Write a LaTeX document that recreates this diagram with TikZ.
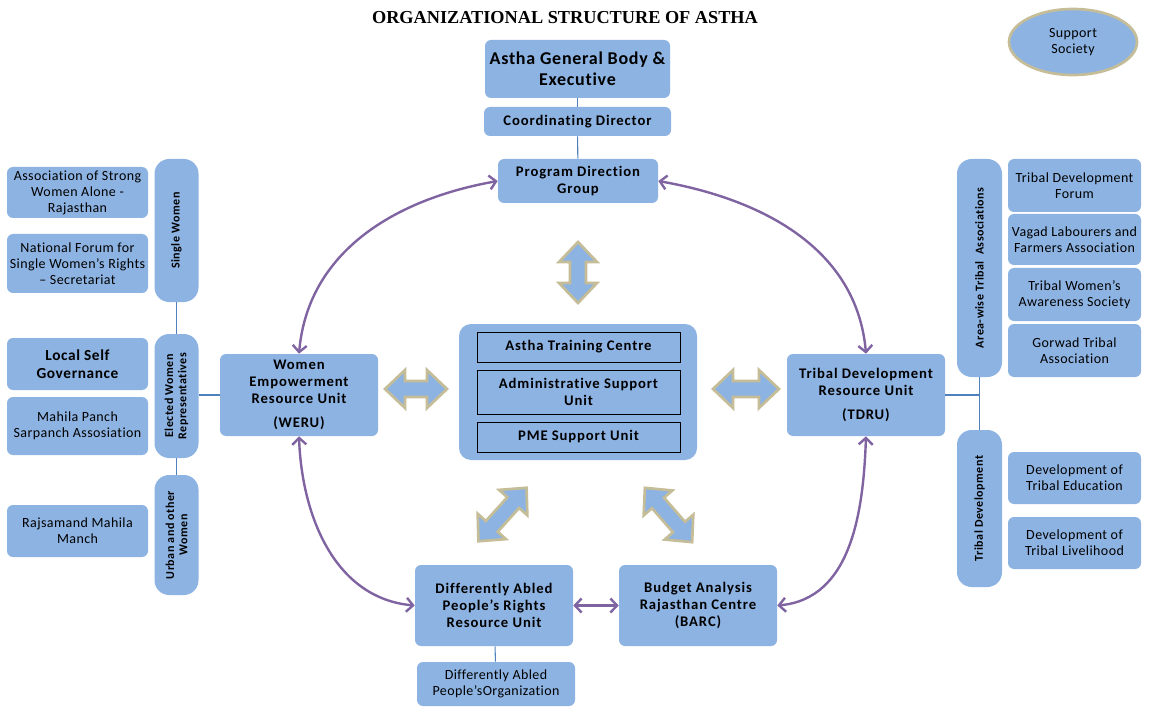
\documentclass[tikz,border=0pt]{standalone}
\usepackage{fontspec}
\setmainfont[Ligatures=NoCommon]{Carlito}
\newfontfamily\titlefont{Liberation Serif}
\usetikzlibrary{arrows.meta,shapes.geometric}
\definecolor{boxblue}{HTML}{8DB3E2}
\definecolor{mytan}{HTML}{C4BD97}
\definecolor{arrpurple}{HTML}{8064A2}
\definecolor{linkblue}{HTML}{4F81BD}
\newcommand\blockarr[4]{%
  \begin{scope}[shift={(#1,#2)},rotate=#3]
    \pgfmathsetmacro\hl{#4/2}
    \draw[barrow] (-\hl,0) -- (-\hl+20,19) -- (-\hl+20,8) -- (\hl-20,8) -- (\hl-20,19)
      -- (\hl,0) -- (\hl-20,-19) -- (\hl-20,-8) -- (-\hl+20,-8) -- (-\hl+20,-19) -- cycle;
  \end{scope}}
\begin{document}
\begin{tikzpicture}[x=0.75pt,y=0.75pt,
  sz/.style 2 args={minimum width=#1*0.75pt,minimum height=#2*0.75pt},
  box/.style={draw=none,fill=boxblue,rounded corners=4.5pt,inner sep=0pt,align=center,
    font=\fontsize{11}{12.9}\selectfont\bfseries\addfontfeature{LetterSpace=6}},
  side/.style={box,font=\fontsize{10.5}{12}\selectfont\addfontfeature{LetterSpace=3}},
  pill/.style={box,rounded corners=11pt,rotate=90,
    font=\fontsize{9}{10}\selectfont\bfseries\addfontfeature{LetterSpace=4}},
  innerbox/.style={draw=black,line width=0.6pt,fill=boxblue,inner sep=0pt,align=center,
    font=\fontsize{11}{12.9}\selectfont\bfseries\addfontfeature{LetterSpace=6}},
  link/.style={draw=linkblue,line width=0.8pt},
  curv/.style={draw=arrpurple,line width=1.8pt,
    {Straight Barb[length=5pt,width=10.5pt]}-{Straight Barb[length=5pt,width=10.5pt]}},
  barrow/.style={fill=boxblue,draw=mytan,line width=2pt,line join=miter}
]
\useasboundingbox (0,0) rectangle (1149,708);

\node[font=\titlefont\bfseries\fontsize{13.7}{15}\selectfont] (title) at (565,690) {ORGANIZATIONAL STRUCTURE OF ASTHA};

% top chain
\node[box,sz={185}{58},font=\fontsize{13.5}{16}\selectfont\bfseries\addfontfeature{LetterSpace=4}] (gb) at (577.5,639) {Astha General Body \&\\Executive};
\node[box,sz={187}{29}] (cd) at (577.5,586.5) {Coordinating Director};
\node[box,sz={160}{44}] (pdg) at (578,527) {Program Direction\\Group};
\node[ellipse,fill=boxblue,draw=mytan,line width=2pt,sz={128}{66},inner sep=0pt,align=center,
  font=\fontsize{10.5}{12}\selectfont\addfontfeature{LetterSpace=3}] (ss) at (1073,666) {Support\\Society};

% centre
\node[box,sz={238}{136},rounded corners=9pt] (ctr) at (578,316) {};
\node[innerbox,sz={203}{30}] (atc) at (578.5,361) {Astha Training Centre};
\node[innerbox,sz={203}{44}] (asu) at (578.5,316) {Administrative Support\\Unit};
\node[innerbox,sz={203}{30}] (pme) at (578.5,271) {PME Support Unit};

% units
\node[box,sz={158}{82}] (weru) at (299,313) {Women\\Empowerment\\Resource Unit\\[5pt](WERU)};
\node[box,sz={158}{82}] (tdru) at (866,313) {Tribal Development\\Resource Unit\\[5pt](TDRU)};
\node[box,sz={158}{81}] (dap) at (494,102.5) {Differently Abled\\People's Rights\\Resource Unit};
\node[box,sz={158}{81}] (barc) at (698,102.5) {Budget Analysis\\Rajasthan Centre\\(BARC)};
\node[side,sz={158}{44}] (dapo) at (496,24) {Differently Abled\\People’sOrganization};

% left side
\node[pill,sz={143}{44}] (sw) at (176.5,477.5) {Single Women};
\node[pill,sz={124}{44}] (ewr) at (176.5,312) {Elected Women\\Representatives};
\node[pill,sz={120}{44}] (uow) at (176.5,173) {Urban and other\\Women};
\node[side,sz={141}{51}] (aswa) at (77.5,515.5) {Association of Strong\\Women Alone -\\Rajasthan};
\node[side,sz={141}{59}] (nf) at (77.5,444.5) {National Forum for\\Single Women's Rights\\– Secretariat};
\node[side,sz={141}{52},font=\fontsize{11.5}{13.5}\selectfont\bfseries\addfontfeature{LetterSpace=4}] (lsg) at (77.5,344) {Local Self\\Governance};
\node[side,sz={141}{58}] (mp) at (77.5,282) {Mahila Panch\\Sarpanch Assosiation};
\node[side,sz={141}{52}] (rmm) at (77.5,177) {Rajsamand Mahila\\Manch};

% right side
\node[pill,sz={218}{45}] (ata) at (979.5,440) {Area-wise Tribal\ \ Associations};
\node[pill,sz={157}{45}] (td) at (979.5,199.5) {Tribal Development};
\node[side,sz={133}{53}] (tdf) at (1074.5,522.5) {Tribal Development\\Forum};
\node[side,sz={133}{51}] (vag) at (1074.5,468.5) {Vagad Labourers and\\Farmers Association};
\node[side,sz={133}{53}] (twas) at (1074.5,413.5) {Tribal Women's\\Awareness Society};
\node[side,sz={133}{53}] (gor) at (1074.5,357.5) {Gorwad Tribal\\Association};
\node[side,sz={133}{52}] (dte) at (1074.5,230) {Development of\\Tribal Education};
\node[side,sz={133}{52}] (dtl) at (1074.5,165) {Development of\\Tribal Livelihood};

% thin links
\draw[link] (gb) -- (cd);
\draw[link] (cd) -- (pdg);
\draw[link] (dap) -- (dapo);
\draw[link] (sw) -- (ewr);
\draw[link] (ewr) -- (uow);
\draw[link] (weru.west) -- (weru.west -| ewr.south);
\draw[link] (ata) -- (td);
\draw[link] (tdru.east) -- (tdru.east -| ata);

% curved purple arrows
\draw[curv] (weru.north) to[out=85,in=190] (pdg.west);
\draw[curv] (pdg.east) to[out=-10,in=95] (tdru.north);
\draw[curv] (weru.south) to[out=-88,in=175] (dap.west);
\draw[curv] (tdru.south) to[out=-92,in=5] (barc.east);
\draw[curv] (dap) -- (barc);

% block arrows
\blockarr{578}{435.5}{90}{61}
\blockarr{416}{319}{0}{62}
\blockarr{746}{319}{0}{66}
\blockarr{502.5}{193.5}{48}{72}
\blockarr{668.5}{193}{-49}{72}
\end{tikzpicture}
\end{document}
